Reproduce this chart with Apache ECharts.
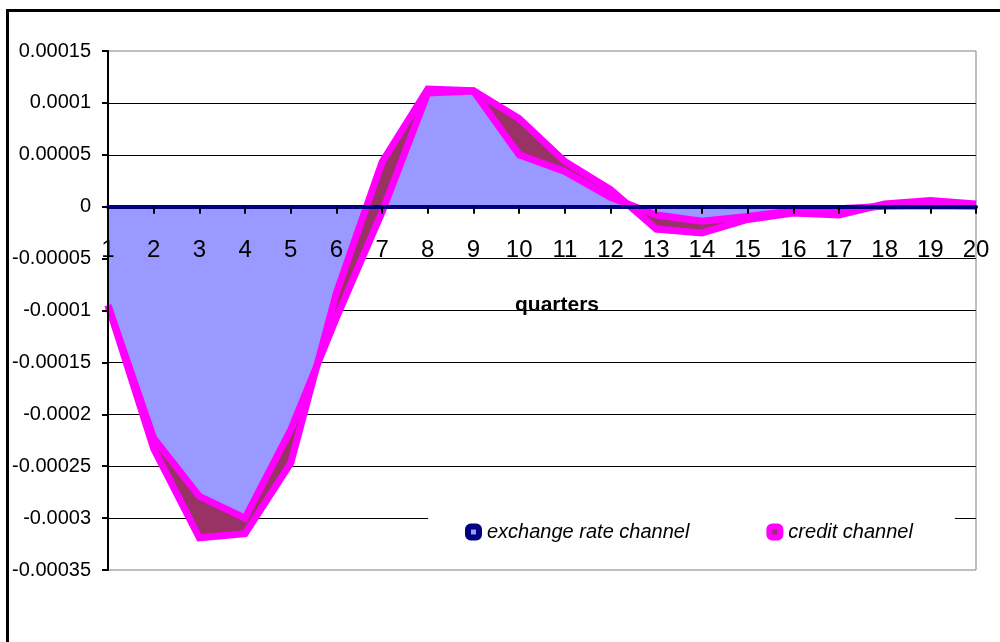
<!DOCTYPE html>
<html>
<head>
<meta charset="utf-8">
<script src="https://cdn.jsdelivr.net/npm/echarts@6/dist/echarts.min.js"></script>
<style>
html,body{margin:0;padding:0;background:#fff;}
#chart{width:1000px;height:642px;}
</style>
</head>
<body>
<div id="chart"></div>
<script>
// quarters 1..20
const categories = ['1','2','3','4','5','6','7','8','9','10','11','12','13','14','15','16','17','18','19','20'];
// stacked area chart: exchange rate channel at the bottom, credit channel added on top of it
const exchangeRate = [-0.000095,-0.000223,-0.000279,-0.0003,-0.000215,-0.000107,-0.000005,0.0001095,0.0001115,0.00005,0.000034,0.000009,-0.000008,-0.000014,-0.0000094,-0.000004,-0.000002,0.0000005,0.000001,0.0000005];
const credit = [0,-0.00001,-0.00004,-0.000015,-0.000032,0.000024,0.000048,0.0000039,0.0000002,0.000035,0.0000095,0.0000076,-0.0000135,-0.0000113,-0.0000029,-0.000002,-0.000006,0.0000021,0.000005,0.0000021];
const yTickLabels = ['0.00015','0.0001','0.00005','0','-0.00005','-0.0001','-0.00015','-0.0002','-0.00025','-0.0003','-0.00035'];
const seriesNames = ['exchange rate channel','credit channel'];
const axisTitle = 'quarters';

const FONT = '"Liberation Sans", Arial, sans-serif';
const chart = echarts.init(document.getElementById('chart'), null, {renderer:'canvas'});
const yMin = -0.00035, yMax = 0.00015, yStep = 0.00005;
const gridTop = 51, gridBottom = 72, H = 642;
const plotH = H - gridTop - gridBottom;
const zeroY = gridTop + plotH * (yMax / (yMax - yMin));
const xAxisOffset = -((H - gridBottom) - zeroY);
function yLabel(v){
  const i = Math.round((yMax - v) / yStep);
  return yTickLabels[i] !== undefined ? yTickLabels[i] : '';
}
chart.setOption({
  animation: false,
  backgroundColor: '#fff',
  grid: {left:108, right:24, top:gridTop, bottom:gridBottom, show:true, borderColor:'#808080', borderWidth:1, containLabel:false, outerBoundsMode:'none'},
  legend: {
    left: 428, top: 509, orient:'horizontal',
    backgroundColor:'#fff',
    padding:[13, 42, 13, 37],
    itemGap: 77, itemWidth: 11, itemHeight: 11,
    icon:'roundRect', selectedMode:false,
    textStyle:{fontSize:20, fontStyle:'italic', color:'#000', fontFamily:FONT, padding:[0,0,0,3]},
    data:[
      {name:seriesNames[0], itemStyle:{color:'#9999FF', borderColor:'#000080', borderWidth:6}},
      {name:seriesNames[1], itemStyle:{color:'#993366', borderColor:'#FF00FF', borderWidth:6}}
    ]
  },
  xAxis: {
    type:'category', data:categories, boundaryGap:false, z:5,
    position:'bottom', offset:xAxisOffset,
    axisLine:{onZero:false, lineStyle:{color:'#000080', width:4}},
    axisTick:{show:true, interval:0, length:7, lineStyle:{color:'#000', width:2}},
    axisLabel:{interval:0, margin:32, fontSize:24, color:'#000', fontFamily:FONT, hideOverlap:false},
    splitLine:{show:false}
  },
  yAxis: [
    {
      type:'value', min:yMin, max:yMax, interval:yStep, z:3,
      axisLine:{show:true, lineStyle:{color:'#000', width:2}},
      axisTick:{show:true, length:6, lineStyle:{color:'#000', width:2}},
      axisLabel:{margin:17, fontSize:20, color:'#000', fontFamily:FONT, formatter:yLabel},
      splitLine:{show:false}
    },
    {
      type:'value', min:yMin, max:yMax, interval:yStep, z:0, position:'left',
      axisLine:{show:false}, axisTick:{show:false}, axisLabel:{show:false},
      splitLine:{show:true, showMinLine:false, showMaxLine:false, lineStyle:{color:'#000', width:1}}
    }
  ],
  series: [
    {
      name:seriesNames[0], type:'line', data:exchangeRate, yAxisIndex:0, z:2,
      stack:'total', stackStrategy:'all',
      symbol:'none', silent:true,
      itemStyle:{color:'#9999FF'},
      lineStyle:{color:'#FF00FF', width:7, join:'miter', miterLimit:3},
      areaStyle:{color:'#9999FF', opacity:1}
    },
    {
      name:seriesNames[1], type:'line', data:credit, yAxisIndex:0, z:2,
      stack:'total', stackStrategy:'all',
      symbol:'none', silent:true,
      itemStyle:{color:'#993366'},
      lineStyle:{color:'#FF00FF', width:7, join:'miter', miterLimit:3},
      areaStyle:{color:'#993366', opacity:1}
    }
  ],
  graphic: [
    {type:'rect', silent:true, z:100, shape:{x:7.5, y:10.5, width:1100, height:700}, style:{fill:'none', stroke:'#000', lineWidth:3}},
    {type:'text', silent:true, z:100, x:557, y:305, style:{text:axisTitle, font:'bold 21px ' + FONT, fill:'#000', align:'center', verticalAlign:'middle'}}
  ]
});
</script>
</body>
</html>
